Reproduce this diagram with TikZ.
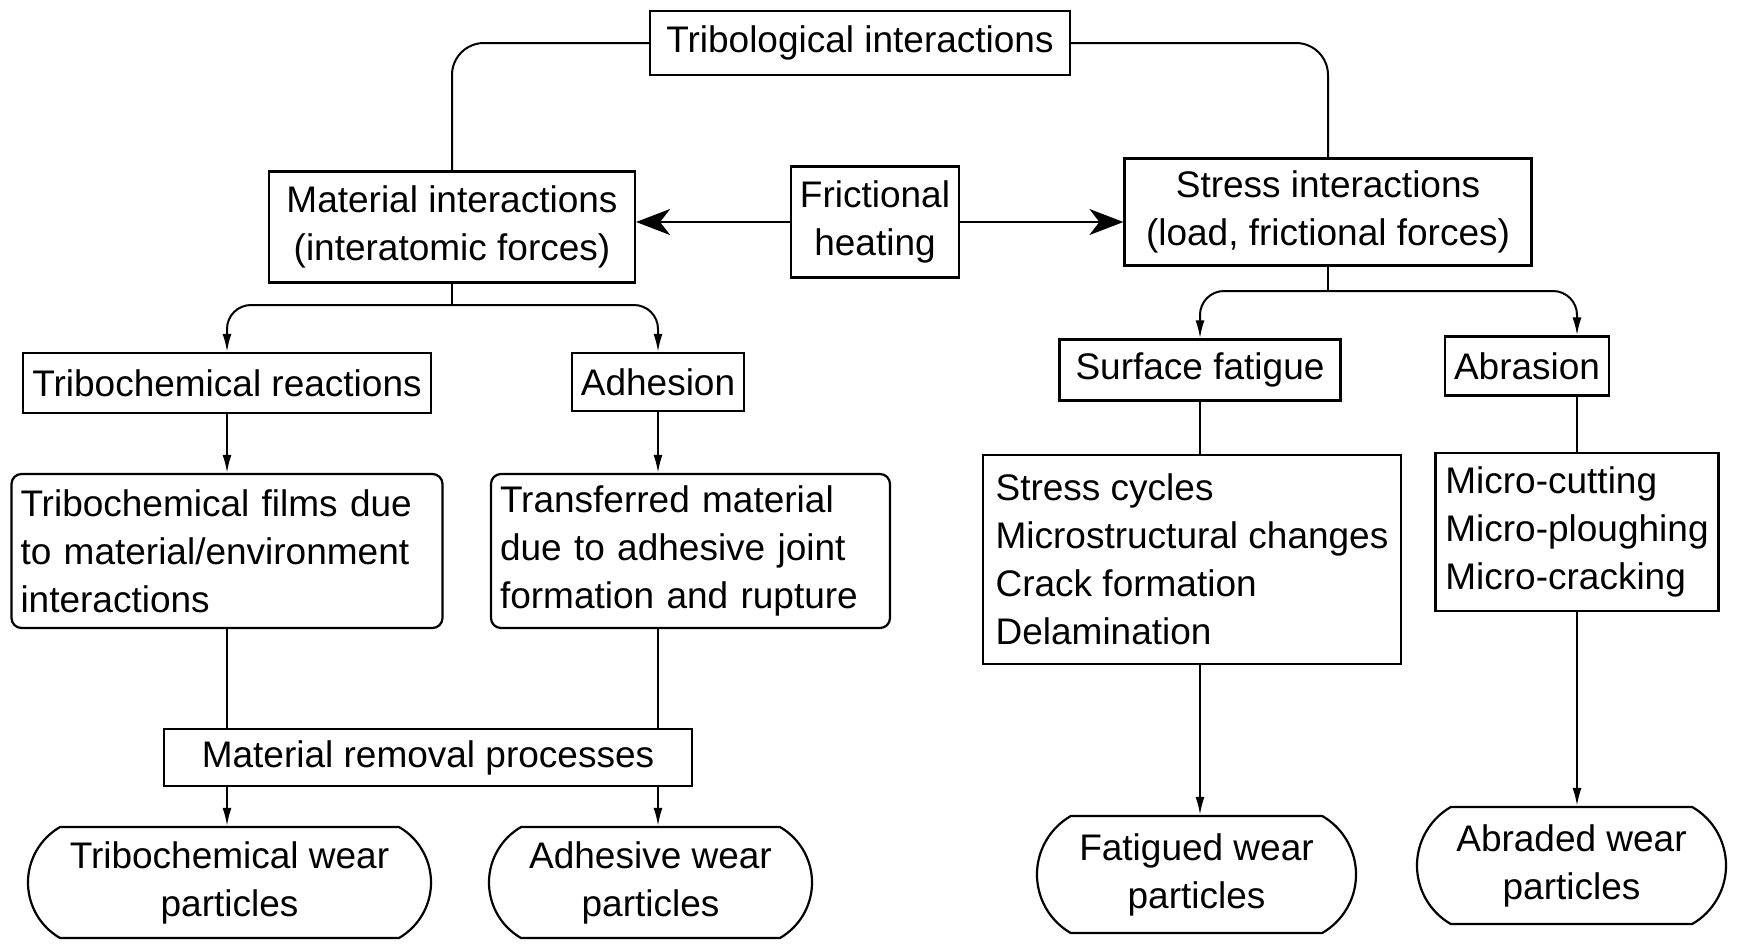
\documentclass[tikz,border=0pt]{standalone}
\usepackage{fontspec}
\setmainfont{Liberation Sans}
\usepackage{tikz}
\usetikzlibrary{arrows.meta,shapes.misc}

\begin{document}
\begin{tikzpicture}[x=0.5pt, y=-0.5pt, >={Latex[length=9pt, width=4.5pt]},
    every node/.style={font=\fontsize{18.5}{24}\selectfont, line width=1.1pt, inner xsep=4.5pt, inner ysep=0pt},
    box/.style={draw, rectangle, align=center},
    listbox/.style={draw, rectangle, align=left},
    rbox/.style={draw, rectangle, rounded corners=5pt, align=left},
    oval/.style={draw, rounded rectangle, rounded rectangle arc length=120, inner xsep=2pt, align=center},
    link/.style={line width=1pt},
    heatarrow/.style={line width=1pt, -{Stealth[length=17pt, width=13pt, inset=5pt]}}]
    \useasboundingbox (0,0) rectangle (1741,944);

    \node[box, minimum width=210pt, minimum height=32pt] (trib) at (860,43) {Tribological interactions};
    \node[box, minimum width=183pt, minimum height=55.5pt] (matint) at (452,227) {Material interactions\\(interatomic forces)};
    \node[box, minimum width=83pt, minimum height=55.5pt] (heat) at (875,222) {Frictional\\heating};
    \node[box, minimum width=203.5pt, minimum height=53.5pt] (stress) at (1328,212) {Stress interactions\\(load, frictional forces)};

    \node[box, minimum width=203.5pt, minimum height=30pt] (trireac) at (227,383) {Tribochemical reactions};
    \node[box, minimum width=80pt, minimum height=29pt] (adh) at (658,382) {Adhesion};
    \node[box, minimum width=140.5pt, minimum height=30.5pt] (surf) at (1200,370) {Surface fatigue};
    \node[box, minimum width=80.5pt, minimum height=29.5pt] (abr) at (1527,366) {Abrasion};

    \node[rbox, text width=206.5pt, minimum height=77pt] (trifilm) at (227,551) {Tribochemical films due\\to material/environment\\interactions};
    \node[rbox, text width=190.5pt, minimum height=77pt] (transf) at (690.5,551) {Transferred material\\due to adhesive joint\\formation and rupture};
    \node[listbox, minimum width=209pt, minimum height=104.5pt] (cycles) at (1192,559.5) {Stress cycles\\Microstructural changes\\Crack formation\\Delamination};
    \node[listbox, minimum width=141.5pt, minimum height=79pt] (micro) at (1577,532) {Micro-cutting\\Micro-ploughing\\Micro-cracking};

    \node[box, minimum width=264pt, minimum height=28.5pt] (removal) at (428,757.5) {Material removal processes};

    \node[oval, minimum width=205.5pt, minimum height=55.5pt] (triwear) at (229.5,882.5) {Tribochemical wear\\particles};
    \node[oval, minimum width=165.5pt, minimum height=55.5pt] (adhwear) at (650.5,882.5) {Adhesive wear\\particles};
    \node[oval, minimum width=163.5pt, minimum height=58.5pt] (fatwear) at (1196.5,874.5) {Fatigued wear\\particles};
    \node[oval, minimum width=158.5pt, minimum height=58.5pt] (abrwear) at (1571.5,865.5) {Abraded wear\\particles};

    \coordinate (mfork) at (452,305);
    \coordinate (sfork) at (1328,291);

    \draw[link, rounded corners=16pt] (trib.west) -| (matint.north);
    \draw[link, rounded corners=16pt] (trib.east) -| (stress.north);
    \draw[heatarrow] (heat.west) -- (heat.west -| matint.east);
    \draw[heatarrow] (heat.east) -- (heat.east -| stress.west);

    \draw[link] (matint.south) -- (mfork);
    \draw[link, ->, rounded corners=12pt] (mfork) -| (trireac.north);
    \draw[link, ->, rounded corners=12pt] (mfork) -| (adh.north);
    \draw[link] (stress.south) -- (sfork);
    \draw[link, ->, rounded corners=12pt] (sfork) -| (surf.north);
    \draw[link, ->, rounded corners=12pt] (sfork) -| (abr.north -| micro.north);

    \draw[link, ->] (trireac.south) -- (trifilm.north);
    \draw[link, ->] (adh.south) -- (adh.south |- transf.north);
    \draw[link] (surf.south) -- (surf.south |- cycles.north);
    \draw[link] (abr.south -| micro.north) -- (micro.north);

    \draw[link] (trifilm.south) -- (trifilm.south |- removal.north);
    \draw[link] (transf.south -| adh.south) -- (adh.south |- removal.north);
    \draw[link, ->] (removal.south -| trifilm.south) -- (trifilm.south |- triwear.north);
    \draw[link, ->] (removal.south -| adh.south) -- (adh.south |- adhwear.north);
    \draw[link, ->] (cycles.south -| surf.south) -- (surf.south |- fatwear.north);
    \draw[link, ->] (micro.south) -- (micro.south |- abrwear.north);
\end{tikzpicture}
\end{document}
